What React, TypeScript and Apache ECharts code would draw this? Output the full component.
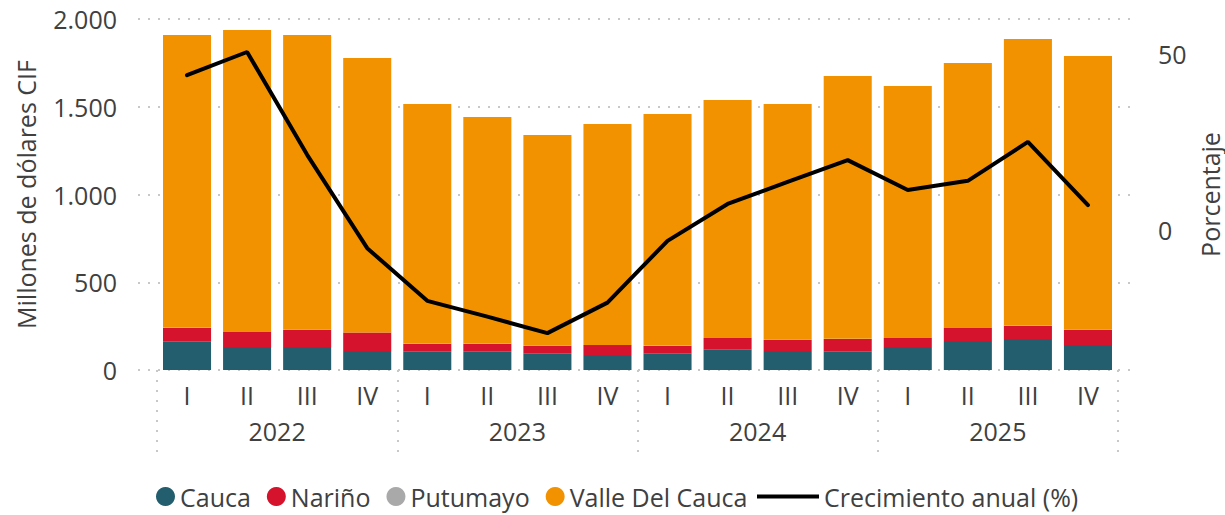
import React, { useEffect, useRef } from 'react';
import * as echarts from 'echarts';

const quarters = ['I', 'II', 'III', 'IV', 'I', 'II', 'III', 'IV', 'I', 'II', 'III', 'IV', 'I', 'II', 'III', 'IV'];
const years = ['2022', '2023', '2024', '2025'];

const cauca = [161, 131, 131, 108, 104, 104, 93, 85, 93, 116, 108, 104, 131, 165, 177, 142];
const narino = [80, 85, 97, 105, 46, 46, 44, 57, 44, 66, 63, 73, 51, 74, 75, 86];
const putumayo = [3, 1, 1, 1, 3, 3, 1, 1, 3, 1, 1, 1, 1, 1, 3, 1];
const valle = [1665, 1720, 1680, 1564, 1363, 1289, 1201, 1259, 1319, 1355, 1344, 1497, 1435, 1509, 1631, 1560];
const crecimiento = [44.0, 50.6, 21.3, -5.3, -20.3, -24.8, -29.5, -20.8, -3.2, 7.3, 13.6, 19.8, 11.3, 13.9, 25.0, 7.0];

const leftTicks = [0, 500, 1000, 1500, 2000];
const rightTicks = [0, 50];

const FONT = "'Open Sans', sans-serif";
const TEXT = '#404040';
const DOT = { type: [2, 8] as any, width: 2, color: '#C8C8C8' };

export default function App() {
  const ref = useRef<HTMLDivElement>(null);
  useEffect(() => {
    document.body.style.margin = '0';
    const chart = echarts.init(ref.current!, null, { renderer: 'svg' });
    const fmt = (v: number) => String(v).replace(/\B(?=(\d{3})+(?!\d))/g, '.');
    const option: any = {
      animation: false,
      textStyle: { fontFamily: FONT },
      grid: [
        { left: 138, right: 95, top: 19, bottom: 145, outerBoundsMode: 'none' },
        { left: 157, right: 107, top: 19, bottom: 145, outerBoundsMode: 'none' },
        { left: 157, right: 107, top: 370, bottom: 56, outerBoundsMode: 'none' },
      ],
      xAxis: [
        { type: 'value', gridIndex: 0, show: false, min: 0, max: 1, splitLine: { show: false } },
        {
          type: 'category', gridIndex: 1, data: quarters, position: 'bottom',
          axisLine: { show: false }, axisTick: { show: false },
          axisLabel: { interval: 0, margin: 12, fontSize: 25, color: TEXT, fontFamily: FONT },
        },
        {
          type: 'category', gridIndex: 1, data: years, position: 'bottom',
          axisLine: { show: false }, axisTick: { show: false },
          axisLabel: { interval: 0, margin: 48, fontSize: 25, color: TEXT, fontFamily: FONT },
        },
        {
          type: 'category', gridIndex: 2, data: years, position: 'bottom',
          axisLine: { show: false }, axisTick: { show: false }, axisLabel: { show: false },
          splitLine: { show: true, interval: 0, lineStyle: DOT },
        },
      ],
      yAxis: [
        {
          type: 'value', gridIndex: 0, min: 0, max: 2000, interval: 500,
          axisLabel: { formatter: (v: number) => fmt(v), margin: 21, fontSize: 25, color: TEXT, fontFamily: FONT, customValues: leftTicks },
          splitLine: { show: true, lineStyle: DOT },
          axisLine: { show: false }, axisTick: { show: false },
          name: 'Millones de dólares CIF', nameLocation: 'middle', nameGap: 100, nameRotate: 90,
          nameTextStyle: { fontSize: 25, color: TEXT, fontFamily: FONT },
        },
        { type: 'value', gridIndex: 1, min: 0, max: 2000, show: false },
        {
          type: 'value', gridIndex: 1, position: 'right', min: -40, max: 60,
          axisLabel: { customValues: rightTicks, margin: 40, fontSize: 25, color: TEXT, fontFamily: FONT },
          axisTick: { show: false },
          splitLine: { show: false }, axisLine: { show: false },
          name: 'Porcentaje', nameLocation: 'middle', nameGap: 75, nameRotate: 90,
          nameTextStyle: { fontSize: 25, lineHeight: 25, color: TEXT, fontFamily: FONT },
        },
        { type: 'value', gridIndex: 2, min: 0, max: 1, show: false, splitLine: { show: false } },
      ],
      legend: [
        {
          data: ['Cauca', 'Nariño', 'Putumayo', 'Valle Del Cauca'],
          left: 151, top: 479, icon: 'circle', itemWidth: 19, itemHeight: 19, itemGap: 16,
          textStyle: { fontSize: 25, color: TEXT, fontFamily: FONT },
        },
        {
          data: ['Crecimiento anual (%)'],
          left: 752, top: 479, itemWidth: 62, itemHeight: 19,
          icon: 'path://M0,8 H62 V12 H0 Z',
          itemStyle: { color: '#000' },
          textStyle: { fontSize: 25, color: TEXT, fontFamily: FONT },
        },
      ],
      series: [
        { name: 'Cauca', type: 'bar', stack: 'total', xAxisIndex: 1, yAxisIndex: 1, data: cauca, barCategoryGap: '20%', itemStyle: { color: '#235E6F' } },
        { name: 'Nariño', type: 'bar', stack: 'total', xAxisIndex: 1, yAxisIndex: 1, data: narino, itemStyle: { color: '#D6132D' } },
        { name: 'Putumayo', type: 'bar', stack: 'total', xAxisIndex: 1, yAxisIndex: 1, data: putumayo, itemStyle: { color: '#A9A9A9' } },
        { name: 'Valle Del Cauca', type: 'bar', stack: 'total', xAxisIndex: 1, yAxisIndex: 1, data: valle, itemStyle: { color: '#F29200' } },
        {
          name: 'Crecimiento anual (%)', type: 'line', xAxisIndex: 1, yAxisIndex: 2, data: crecimiento,
          symbol: 'none', lineStyle: { width: 4, color: '#000', cap: 'round' }, itemStyle: { color: '#000' },
        },
      ],
    };
    chart.setOption(option);
    return () => chart.dispose();
  }, []);
  return <div ref={ref} style={{ width: 1225, height: 515 }} />;
}
